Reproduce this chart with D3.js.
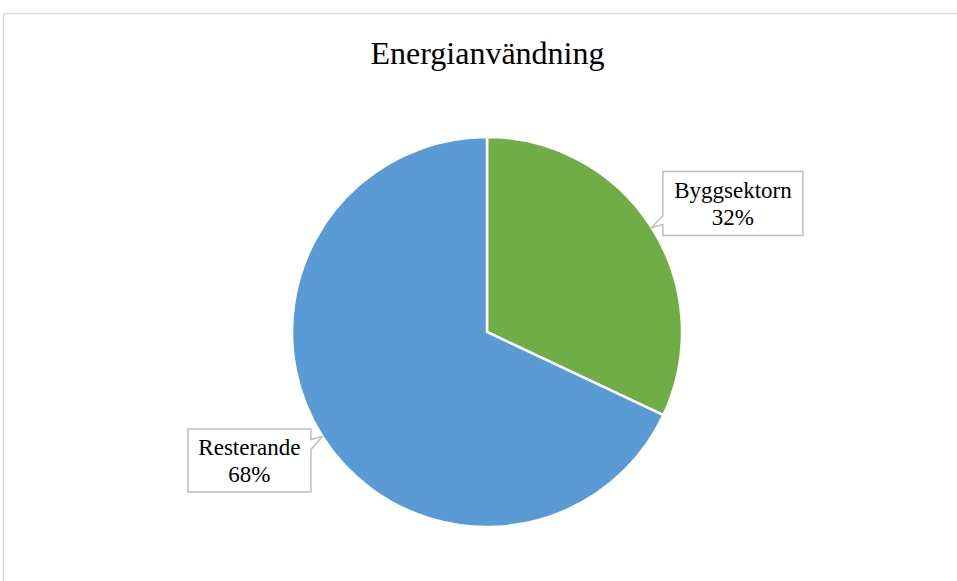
<!DOCTYPE html>
<html><head><meta charset="utf-8">
<script src="https://cdn.jsdelivr.net/npm/d3@7"></script>
<style>html,body{margin:0;padding:0;background:#fff;}svg{display:block;}</style>
</head><body>
<svg id="chart" width="957" height="581"></svg>
<script>
const title = "Energianvändning";
const categories = ["Byggsektorn", "Resterande"];
const values = [32, 68];
const colors = ["#70AD47", "#5B9BD5"];

const W = 957, H = 581;
const svg = d3.select("#chart");
const font = "'Liberation Serif','Times New Roman',serif";

// chart area border
svg.append("rect").attr("x", 3.5).attr("y", 13.5).attr("width", W + 10).attr("height", H + 10)
  .attr("fill", "none").attr("stroke", "#d9d9d9").attr("stroke-width", 1.3);

svg.append("text").attr("x", 487.5).attr("y", 64).attr("text-anchor", "middle")
  .attr("font-family", font).attr("font-size", 32).attr("fill", "#000").text(title);

const cx = 487, cy = 332, r = 195;
const pie = d3.pie().sort(null).value(d => d)(values);
const arc = d3.arc().innerRadius(0).outerRadius(r);
const g = svg.append("g").attr("transform", `translate(${cx},${cy})`);
g.selectAll("path").data(pie).join("path")
  .attr("d", arc).attr("fill", (d, i) => colors[i])
  .attr("stroke", "#fff").attr("stroke-width", 2.5).attr("stroke-linejoin", "miter");

const total = d3.sum(values);
// callout labels
const boxes = [
  {w: 140, h: 64, dist: 1.423, shift: 4.8, side: "left"},
  {w: 123, h: 63, dist: 1.385, shift: 4.0, side: "right"}
];
pie.forEach((d, i) => {
  const mid = (d.startAngle + d.endAngle) / 2;
  const b = boxes[i];
  const a2 = mid + b.shift * Math.PI / 180;
  const bx = cx + Math.sin(a2) * r * b.dist, by = cy - Math.cos(a2) * r * b.dist;
  const tx = cx + Math.sin(mid) * r, ty = cy - Math.cos(mid) * r;
  const x0 = bx - b.w / 2, x1 = bx + b.w / 2, y0 = by - b.h / 2, y1 = by + b.h / 2;
  let p;
  if (b.side === "left") {
    const b1 = ty - 12, b2 = ty - 3;
    p = `M${x0},${y0}H${x1}V${y1}H${x0}V${b2}L${tx},${ty}L${x0},${b1}Z`;
  } else {
    const b1 = ty + 3, b2 = ty + 13;
    p = `M${x0},${y0}H${x1}V${b1}L${tx},${ty}L${x1},${b2}V${y1}H${x0}Z`;
  }
  svg.append("path").attr("d", p).attr("fill", "#fff").attr("stroke", "#bfbfbf").attr("stroke-width", 1.5);
  const t = svg.append("text").attr("text-anchor", "middle").attr("font-family", font)
    .attr("font-size", 23).attr("fill", "#000");
  t.append("tspan").attr("x", bx).attr("y", by - 5.5).text(categories[i]);
  t.append("tspan").attr("x", bx).attr("y", by + 21.5).text(Math.round(values[i] / total * 100) + "%");
});
</script>
</body></html>
